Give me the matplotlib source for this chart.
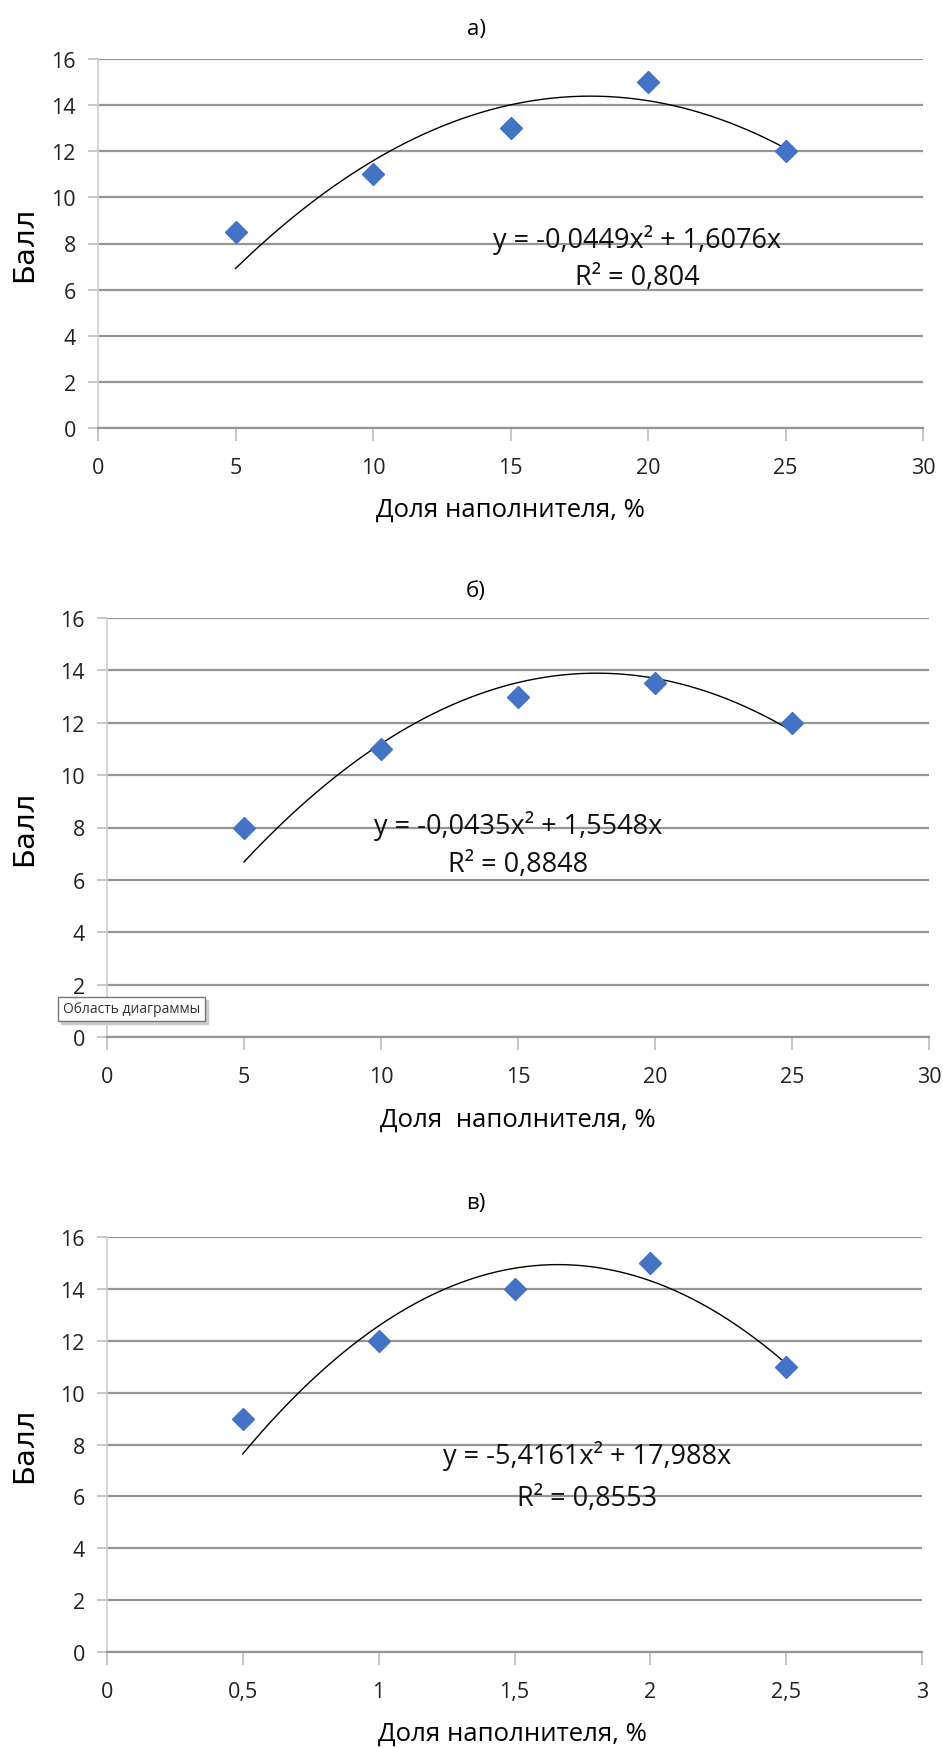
import numpy as np
import matplotlib
matplotlib.use("Agg")
import matplotlib.pyplot as plt

plt.rcParams['font.family'] = ['Open Sans', 'DejaVu Sans']

# ---- data ----
titles = ["а)", "б)", "в)"]
x_a = [5, 10, 15, 20, 25]
y_a = [8.5, 11, 13, 15, 12]
x_b = [5, 10, 15, 20, 25]
y_b = [8, 11, 13, 13.5, 12]
x_c = [0.5, 1, 1.5, 2, 2.5]
y_c = [9, 12, 14, 15, 11]
coef_a = [-0.0449, 1.6076]
coef_b = [-0.0435, 1.5548]
coef_c = [-5.4161, 17.988]
eq_a = ["y = -0,0449x² + 1,6076x", "R² = 0,804"]
eq_b = ["y = -0,0435x² + 1,5548x", "R² = 0,8848"]
eq_c = ["y = -5,4161x² + 17,988x", "R² = 0,8553"]
xticks_ab = [0, 5, 10, 15, 20, 25, 30]
xticklabels_ab = ["0", "5", "10", "15", "20", "25", "30"]
xticks_c = [0, 0.5, 1, 1.5, 2, 2.5, 3]
xticklabels_c = ["0", "0,5", "1", "1,5", "2", "2,5", "3"]
yticks = [0, 2, 4, 6, 8, 10, 12, 14, 16]
xlabels = ["Доля наполнителя, %", "Доля  наполнителя, %", "Доля наполнителя, %"]
ylabel = "Балл"

W, H = 943, 1749
fig = plt.figure(figsize=(W / 100, H / 100), dpi=100)

def px_axes(l, t, r, b):
    return fig.add_axes([l / W, 1 - b / H, (r - l) / W, (b - t) / H])

panels = [
    dict(box=(98, 60, 923, 429), x=x_a, y=y_a, coef=coef_a, eq=eq_a, eqpos=(19.6, 8.2, 6.55),
         xt=xticks_ab, xtl=xticklabels_ab, xlim=(0, 30), title_y=29, xlab_y=510, xlab_x=510),
    dict(box=(107, 619, 929, 1038), x=x_b, y=y_b, coef=coef_b, eq=eq_b, eqpos=(15.0, 8.1, 6.6),
         xt=xticks_ab, xtl=xticklabels_ab, xlim=(0, 30), title_y=591, xlab_y=1120, xlab_x=518),
    dict(box=(107, 1238, 922, 1653), x=x_c, y=y_c, coef=coef_c, eq=eq_c, eqpos=(1.767, 7.6, 5.95),
         xt=xticks_c, xtl=xticklabels_c, xlim=(0, 3), title_y=1203, xlab_y=1734, xlab_x=512),
]

blue = "#4472C4"
grid_c = "#959595"

for i, p in enumerate(panels):
    ax = px_axes(*p['box'])
    ax.set_xlim(*p['xlim'])
    ax.set_ylim(0, 16)
    ax.set_yticks(yticks)
    ax.set_yticklabels([str(v) for v in yticks])
    ax.set_xticks(p['xt'])
    ax.set_xticklabels(p['xtl'])
    ax.yaxis.grid(True, color=grid_c, lw=1.6)
    ax.set_axisbelow(True)
    for s in ['top', 'right']:
        ax.spines[s].set_visible(False)
    ax.spines['left'].set_color("#cfcfcf")
    ax.spines['left'].set_linewidth(1.2)
    ax.spines['bottom'].set_color(grid_c)
    ax.spines['bottom'].set_linewidth(1.6)
    ax.tick_params(axis='y', length=7, color="#bdbdbd", width=1.2, pad=9, labelsize=15.5, labelcolor="#222222")
    ax.tick_params(axis='x', length=9, color="#bdbdbd", width=1.2, pad=12, labelsize=15.5, labelcolor="#222222")

    xs = np.linspace(min(p['x']), max(p['x']), 300)
    ys = p['coef'][0] * xs ** 2 + p['coef'][1] * xs
    ax.plot(xs, ys, color="black", lw=1.0, zorder=3)
    ax.plot(p['x'], p['y'], linestyle='none', marker='D', markersize=11.5,
            color=blue, markeredgecolor=blue, zorder=4)

    ex, ey1, ey2 = p['eqpos']
    ax.text(ex, ey1, p['eq'][0], ha='center', va='center', fontsize=19.5, color="#111111", zorder=5)
    ax.text(ex, ey2, p['eq'][1], ha='center', va='center', fontsize=19.5, color="#111111", zorder=5)

    fig.text(476 / W, 1 - p['title_y'] / H, titles[i], ha='center', va='center', fontsize=16)
    l, t, r, b = p['box']
    fig.text(p['xlab_x'] / W, 1 - p['xlab_y'] / H, xlabels[i], ha='center', va='center', fontsize=18.5)
    fig.text(24 / W, 1 - ((t + b) / 2) / H, ylabel, ha='center', va='center', rotation=90,
             fontsize=21, family=['DejaVu Sans'])

# tooltip box in panel б (with a soft shadow)
tip_x, tip_y = 63 / W, 1 - 1010 / H
fig.text(tip_x + 3 / W, tip_y - 3 / H, "Область диаграммы", ha='left', va='center', fontsize=10,
         color="#cccccc",
         bbox=dict(boxstyle='square,pad=0.35', facecolor='#cccccc', edgecolor='#cccccc', lw=1.0))
fig.text(tip_x, tip_y, "Область диаграммы", ha='left', va='center', fontsize=10,
         color="#333333",
         bbox=dict(boxstyle='square,pad=0.35', facecolor='white', edgecolor='#777777', lw=1.0))

fig.savefig("out.png", dpi=100)
